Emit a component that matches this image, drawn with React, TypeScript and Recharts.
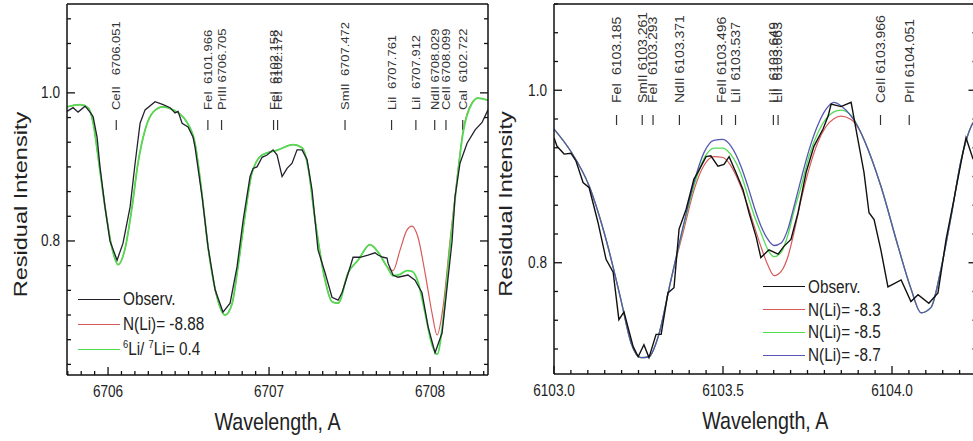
import React from 'react'
import { LineChart, Line, XAxis, YAxis, ReferenceLine, Legend } from 'recharts'

const FONT = '"Liberation Sans", Arial, Helvetica, sans-serif'
const SQ = 0.85 // the scanned figure is squeezed sideways a bit

// ---------- left panel: Li I 6708 region ----------
const liObsWl = [
  6705.745, 6705.783, 6705.814, 6705.857, 6705.888, 6705.907, 6705.932, 6705.95, 6705.981, 6706.012,
  6706.056, 6706.093, 6706.137, 6706.168, 6706.199, 6706.23, 6706.292, 6706.342, 6706.385, 6706.416,
  6706.435, 6706.46, 6706.497, 6706.528, 6706.54, 6706.584, 6706.621, 6706.665, 6706.714, 6706.758,
  6706.801, 6706.839, 6706.882, 6706.901, 6706.925, 6706.957, 6706.988, 6707.025, 6707.05, 6707.081,
  6707.112, 6707.143, 6707.174, 6707.205, 6707.236, 6707.267, 6707.304, 6707.348, 6707.391, 6707.429,
  6707.453, 6707.484, 6707.522, 6707.565, 6707.615, 6707.658, 6707.677, 6707.708, 6707.733, 6707.739,
  6707.77, 6707.801, 6707.863, 6707.907, 6707.95, 6707.988, 6708.031, 6708.075, 6708.106, 6708.137,
  6708.155, 6708.186, 6708.23, 6708.28, 6708.323, 6708.36,
]
const liObsI = [
  0.975, 0.98, 0.974, 0.982, 0.974, 0.968, 0.94, 0.9, 0.846, 0.8,
  0.774, 0.797, 0.846, 0.905, 0.959, 0.977, 0.988, 0.984, 0.98, 0.973,
  0.975, 0.959, 0.954, 0.94, 0.927, 0.86, 0.792, 0.734, 0.704, 0.716,
  0.765, 0.828, 0.887, 0.898, 0.9, 0.913, 0.916, 0.923, 0.916, 0.887,
  0.898, 0.905, 0.923, 0.923, 0.91, 0.869, 0.788, 0.757, 0.724, 0.72,
  0.73, 0.751, 0.778, 0.778, 0.781, 0.784, 0.781, 0.778, 0.777, 0.77,
  0.754, 0.751, 0.754, 0.747, 0.73, 0.684, 0.649, 0.676, 0.738, 0.8,
  0.859, 0.905, 0.932, 0.95, 0.96, 0.977,
]
const liModelWl = [
  6705.745, 6705.826, 6705.876, 6705.907, 6705.938, 6705.981, 6706.025, 6706.062, 6706.106, 6706.149,
  6706.186, 6706.23, 6706.28, 6706.342, 6706.404, 6706.491, 6706.54, 6706.584, 6706.621, 6706.665,
  6706.727, 6706.77, 6706.807, 6706.851, 6706.894, 6706.957, 6707.056, 6707.149, 6707.205, 6707.242,
  6707.286, 6707.348, 6707.391, 6707.429, 6707.491, 6707.553, 6707.627, 6707.677, 6707.733, 6707.77,
  6707.814, 6707.857, 6707.888, 6707.925, 6707.969, 6708.012, 6708.044, 6708.081, 6708.124, 6708.168,
  6708.205, 6708.261, 6708.298, 6708.36,
]
// N(Li) = -8.88
const liFitI = [
  0.981, 0.984, 0.98, 0.96, 0.914, 0.846, 0.79, 0.768, 0.79, 0.846,
  0.905, 0.95, 0.974, 0.981, 0.977, 0.96, 0.932, 0.862, 0.792, 0.735,
  0.7, 0.715, 0.765, 0.835, 0.892, 0.916, 0.923, 0.93, 0.926, 0.9,
  0.828, 0.747, 0.718, 0.716, 0.757, 0.774, 0.795, 0.785, 0.765, 0.76,
  0.788, 0.815, 0.82, 0.805, 0.757, 0.703, 0.673, 0.711, 0.8, 0.885,
  0.948, 0.987, 0.993, 0.99,
]
// 6Li/7Li = 0.4
const liIsoI = [
  0.981, 0.984, 0.98, 0.96, 0.914, 0.846, 0.79, 0.768, 0.79, 0.846,
  0.905, 0.95, 0.974, 0.981, 0.977, 0.96, 0.932, 0.862, 0.792, 0.735,
  0.7, 0.715, 0.765, 0.835, 0.892, 0.916, 0.923, 0.93, 0.926, 0.9,
  0.828, 0.747, 0.718, 0.716, 0.757, 0.774, 0.795, 0.785, 0.765, 0.753,
  0.755, 0.76, 0.759, 0.745, 0.703, 0.66, 0.647, 0.693, 0.792, 0.882,
  0.946, 0.986, 0.993, 0.99,
]
const liMarkText = [
  'CeII   6706.051', 'FeI  6101.966', 'PrIII 6706.705', 'FeI  6102.158', 'FeI  6102.172', 'SmII  6707.472',
  'LiI  6707.761', 'LiI  6707.912', 'NdII 6708.029', 'CeII 6708.099', 'CaI  6102.722',
]
const liMarkWl = [6706.051, 6706.62, 6706.705, 6707.028, 6707.053, 6707.472, 6707.761, 6707.912, 6708.029, 6708.099, 6708.203]

// ---------- right panel: Li I 6103 region ----------
const li61ObsWl = [
  6103.0, 6103.009, 6103.03, 6103.05, 6103.065, 6103.086, 6103.104, 6103.13, 6103.154, 6103.175,
  6103.192, 6103.207, 6103.234, 6103.249, 6103.266, 6103.281, 6103.302, 6103.317, 6103.337, 6103.355,
  6103.37, 6103.391, 6103.414, 6103.426, 6103.45, 6103.464, 6103.485, 6103.503, 6103.518, 6103.538,
  6103.559, 6103.577, 6103.598, 6103.612, 6103.636, 6103.663, 6103.68, 6103.701, 6103.722, 6103.746,
  6103.769, 6103.796, 6103.811, 6103.82, 6103.849, 6103.879, 6103.899, 6103.917, 6103.932, 6103.947,
  6103.967, 6103.988, 6104.027, 6104.056, 6104.077, 6104.109, 6104.136, 6104.16, 6104.183, 6104.21,
  6104.219, 6104.24,
]
const li61ObsI = [
  0.945, 0.935, 0.926, 0.927, 0.918, 0.893, 0.887, 0.847, 0.804, 0.789,
  0.734, 0.743, 0.703, 0.691, 0.705, 0.69, 0.717, 0.717, 0.765, 0.771,
  0.839, 0.862, 0.897, 0.905, 0.923, 0.924, 0.912, 0.914, 0.923, 0.905,
  0.885, 0.858, 0.83, 0.806, 0.815, 0.81, 0.819, 0.827, 0.858, 0.905,
  0.935, 0.955, 0.97, 0.984, 0.981, 0.986, 0.943, 0.905, 0.858, 0.85,
  0.815, 0.772, 0.78, 0.755, 0.763, 0.753, 0.765, 0.827, 0.873, 0.928,
  0.945, 0.92,
]
const li61ModelWl = [
  6103.0, 6103.05, 6103.104, 6103.154, 6103.198, 6103.228, 6103.257, 6103.281, 6103.308, 6103.346,
  6103.385, 6103.414, 6103.444, 6103.473, 6103.5, 6103.524, 6103.553, 6103.574, 6103.592, 6103.612,
  6103.633, 6103.651, 6103.672, 6103.692, 6103.71, 6103.731, 6103.754, 6103.781, 6103.805, 6103.828,
  6103.849, 6103.879, 6103.899, 6103.917, 6103.967, 6104.018, 6104.056, 6104.086, 6104.115, 6104.145,
  6104.175, 6104.204, 6104.234, 6104.251,
]
const li61Fit83 = [
  0.955, 0.929, 0.889, 0.827, 0.757, 0.707, 0.69, 0.691, 0.714, 0.78,
  0.84, 0.884, 0.913, 0.923, 0.922, 0.912, 0.888, 0.865, 0.843, 0.819,
  0.797, 0.785, 0.79, 0.807, 0.835, 0.873, 0.908, 0.94, 0.958, 0.967,
  0.97, 0.966, 0.957, 0.943, 0.889, 0.819, 0.77, 0.742, 0.748, 0.793,
  0.854, 0.918, 0.958, 0.968,
]
const li61Fit85 = [
  0.955, 0.929, 0.889, 0.827, 0.757, 0.707, 0.69, 0.691, 0.714, 0.78,
  0.845, 0.889, 0.921, 0.933, 0.933, 0.925, 0.903, 0.877, 0.855, 0.835,
  0.815, 0.807, 0.812, 0.832, 0.86, 0.888, 0.923, 0.951, 0.967, 0.975,
  0.977, 0.971, 0.958, 0.943, 0.889, 0.819, 0.77, 0.742, 0.748, 0.793,
  0.854, 0.918, 0.958, 0.968,
]
const li61Fit87 = [
  0.955, 0.929, 0.889, 0.827, 0.757, 0.707, 0.69, 0.691, 0.714, 0.78,
  0.847, 0.893, 0.928, 0.942, 0.943, 0.935, 0.912, 0.888, 0.865, 0.843,
  0.827, 0.82, 0.823, 0.839, 0.865, 0.897, 0.93, 0.96, 0.978, 0.986,
  0.982, 0.97, 0.958, 0.943, 0.889, 0.819, 0.77, 0.742, 0.748, 0.793,
  0.854, 0.918, 0.958, 0.968,
]
const li61MarkText = [
  'FeI  6103.185', 'SmII 6103.261', 'FeI  6103.293', 'NdII 6103.371', 'FeII 6103.496',
  'LiI  6103.537', 'LiI  6103.649', 'LiI  6103.663', 'CeII 6103.966', 'PrII 6104.051',
]
const li61MarkWl = [6103.185, 6103.261, 6103.293, 6103.371, 6103.496, 6103.537, 6103.649, 6103.663, 6103.966, 6104.051]

const leftXMajor = [6706, 6707, 6708]
const rightXMajor = [6103.0, 6103.5, 6104.0]
const yMajor = [0.8, 1.0]

const OBS = '#22222e'
const RED = '#d85a5a'
const GREEN = '#52dc52'
const BLUE = '#5656b4'

const toPts = (wl: number[], val: number[]) => wl.map((w, i) => ({ wl: w, v: val[i] }))

const makeTicks = ([lo, hi]: number[], base: number, step: number) => {
  const out: number[] = []
  for (let k = Math.ceil((lo - base) / step - 1e-6); base + k * step <= hi + 1e-6; k++) {
    out.push(Number((base + k * step).toFixed(5)))
  }
  return out
}
const isMajor = (v: number, majors: number[]) => majors.some((m) => Math.abs(m - v) < 1e-4)

type Series = { key: string; wl: number[]; val: number[]; color: string; width: number; smooth: boolean }
type LegendRow = { label: React.ReactNode; color: string; width: number }

interface PanelProps {
  width: number
  margin: { top: number; right: number; bottom: number; left: number }
  xDomain: number[]
  yDomain: number[]
  xMajor: number[]
  xStep: number
  xFmt: (v: number) => string
  series: Series[]
  marks: { text: string[]; wl: number[]; font: number; textBottom: number; tick0: number; tick1: number }
  legend: { rows: LegendRow[]; left: number; top: number; rowH: number }
  yTitleDx: number
}

function Panel({ width, margin, xDomain, yDomain, xMajor, xStep, xFmt, series, marks, legend, yTitleDx }: PanelProps) {
  const xTicks = makeTicks(xDomain, xMajor[0], xStep)
  const yTicks = makeTicks(yDomain, 0.8, 0.2 / 6)
  const axisLine = { stroke: '#111', strokeWidth: 1.5 }
  const common = { tickSize: 0, tickMargin: 0, tickLine: false, interval: 0 as const, allowDataOverflow: true, axisLine }

  return (
    <LineChart width={width} height={441} margin={margin}>
      <XAxis
        {...common}
        xAxisId="b"
        dataKey="wl"
        type="number"
        domain={xDomain}
        ticks={xTicks}
        height={30}
        tick={(p: any) => {
          const major = isMajor(p.payload.value, xMajor)
          return (
            <g>
              <line x1={p.x} x2={p.x} y1={p.y} y2={p.y - (major ? 8 : 4)} stroke="#111" strokeWidth={1.3} />
              {major && (
                <text transform={`translate(${p.x},${p.y + 22}) scale(${SQ},1)`} textAnchor="middle" fontSize={16} fontFamily={FONT} fill="#222">
                  {xFmt(p.payload.value)}
                </text>
              )}
            </g>
          )
        }}
        label={(lp: any) => {
          const vb = lp.viewBox
          return (
            <text transform={`translate(${vb.x + vb.width / 2},${vb.y + 55}) scale(0.82,1)`} textAnchor="middle" fontSize={24} fontFamily={FONT} fill="#222">
              Wavelength, A
            </text>
          )
        }}
      />
      <XAxis
        {...common}
        xAxisId="t"
        orientation="top"
        type="number"
        domain={xDomain}
        ticks={xTicks}
        height={1}
        tick={(p: any) => {
          const major = isMajor(p.payload.value, xMajor)
          return <line x1={p.x} x2={p.x} y1={p.y} y2={p.y + (major ? 8 : 4)} stroke="#111" strokeWidth={1.3} />
        }}
      />
      <YAxis
        {...common}
        yAxisId="l"
        type="number"
        domain={yDomain}
        ticks={yTicks}
        width={60}
        tick={(p: any) => {
          const major = isMajor(p.payload.value, yMajor)
          return (
            <g>
              <line x1={p.x} x2={p.x + (major ? 8 : 4)} y1={p.y} y2={p.y} stroke="#111" strokeWidth={1.3} />
              {major && (
                <text transform={`translate(${p.x - 7},${p.y}) scale(${SQ},1)`} textAnchor="end" dominantBaseline="central" fontSize={16} fontFamily={FONT} fill="#222">
                  {p.payload.value.toFixed(1)}
                </text>
              )}
            </g>
          )
        }}
        label={(lp: any) => {
          const vb = lp.viewBox
          return (
            <text
              transform={`translate(${vb.x + yTitleDx},${vb.y + vb.height / 2 + 15}) scale(0.82,1) rotate(-90)`}
              textAnchor="middle"
              dominantBaseline="central"
              fontSize={23.5}
              fontFamily={FONT}
              fill="#222"
            >
              Residual Intensity
            </text>
          )
        }}
      />
      <YAxis
        {...common}
        yAxisId="r"
        orientation="right"
        type="number"
        domain={yDomain}
        ticks={yTicks}
        width={1}
        tick={(p: any) => {
          const major = isMajor(p.payload.value, yMajor)
          return <line x1={p.x} x2={p.x - (major ? 8 : 4)} y1={p.y} y2={p.y} stroke="#111" strokeWidth={1.3} />
        }}
      />

      {marks.wl.map((w, i) => (
        <ReferenceLine
          key={`m${i}`}
          xAxisId="b"
          yAxisId="l"
          x={w}
          shape={(p: any) => {
            const top = Math.min(p.y1, p.y2)
            const x = p.x1
            return (
              <g>
                <line x1={x} x2={x} y1={top + marks.tick0} y2={top + marks.tick1} stroke="#333" strokeWidth={1.2} />
                <text
                  transform={`translate(${x + marks.font * 0.36 * SQ},${top + marks.textBottom}) scale(${SQ},1) rotate(-90)`}
                  fontSize={marks.font}
                  fontFamily={FONT}
                  fill="#333"
                  style={{ whiteSpace: 'pre' }}
                >
                  {marks.text[i]}
                </text>
              </g>
            )
          }}
        />
      ))}

      {series.map((s) => (
        <Line
          key={s.key}
          xAxisId="b"
          yAxisId="l"
          data={toPts(s.wl, s.val)}
          dataKey="v"
          type={s.smooth ? 'monotone' : 'linear'}
          stroke={s.color}
          strokeWidth={s.width}
          dot={false}
          activeDot={false}
          isAnimationActive={false}
        />
      ))}

      <Legend
        layout="horizontal"
        verticalAlign="middle"
        align="center"
        wrapperStyle={{ left: legend.left, top: legend.top, width: 220, height: 'auto' }}
        content={() => (
          <div style={{ fontFamily: FONT, color: '#222' }}>
            {legend.rows.map((r, i) => (
              <div key={i} style={{ display: 'flex', alignItems: 'center', height: legend.rowH }}>
                <div style={{ width: 42, height: 0, borderTop: `${r.width}px solid ${r.color}` }} />
                <span
                  style={{
                    marginLeft: 3,
                    fontSize: 18,
                    lineHeight: 1,
                    display: 'inline-block',
                    whiteSpace: 'nowrap',
                    transform: `scaleX(${SQ})`,
                    transformOrigin: 'left center',
                  }}
                >
                  {r.label}
                </span>
              </div>
            ))}
          </div>
        )}
      />
    </LineChart>
  )
}

export default function App() {
  const sup = { fontSize: 11, verticalAlign: 'super' as const, lineHeight: 0 }
  return (
    <div style={{ position: 'absolute', left: 0, top: 0, width: 973, height: 441, overflow: 'hidden', background: '#fff' }}>
      <div style={{ position: 'absolute', left: 0, top: 0 }}>
        <Panel
          width={495}
          margin={{ top: 3, right: 6, bottom: 36, left: 7 }}
          xDomain={[6705.745, 6708.36]}
          yDomain={[0.619, 1.12]}
          xMajor={leftXMajor}
          xStep={1 / 12}
          xFmt={(v) => v.toFixed(0)}
          yTitleDx={14}
          series={[
            { key: 'fit', wl: liModelWl, val: liFitI, color: RED, width: 1.2, smooth: true },
            { key: 'iso', wl: liModelWl, val: liIsoI, color: GREEN, width: 1.8, smooth: true },
            { key: 'obs', wl: liObsWl, val: liObsI, color: OBS, width: 1.3, smooth: false },
          ]}
          marks={{ text: liMarkText, wl: liMarkWl, font: 13, textBottom: 106, tick0: 116, tick1: 126 }}
          legend={{
            left: 78,
            top: 286.5,
            rowH: 25,
            rows: [
              { label: 'Observ.', color: OBS, width: 1.3 },
              { label: 'N(Li)= -8.88', color: RED, width: 1.2 },
              {
                label: (
                  <>
                    <span style={sup}>6</span>Li/ <span style={sup}>7</span>Li= 0.4
                  </>
                ),
                color: GREEN,
                width: 1.8,
              },
            ],
          }}
        />
      </div>
      <div style={{ position: 'absolute', left: 490, top: 0 }}>
        <Panel
          width={495}
          margin={{ top: 3, right: 7.5, bottom: 37, left: 4 }}
          xDomain={[6103.0, 6104.25]}
          yDomain={[0.671, 1.1]}
          xMajor={rightXMajor}
          xStep={0.05}
          xFmt={(v) => v.toFixed(1)}
          yTitleDx={12}
          series={[
            { key: 'f83', wl: li61ModelWl, val: li61Fit83, color: RED, width: 1.2, smooth: true },
            { key: 'f85', wl: li61ModelWl, val: li61Fit85, color: GREEN, width: 1.3, smooth: true },
            { key: 'f87', wl: li61ModelWl, val: li61Fit87, color: BLUE, width: 1.3, smooth: true },
            { key: 'obs', wl: li61ObsWl, val: li61ObsI, color: '#111', width: 1.4, smooth: false },
          ]}
          marks={{ text: li61MarkText, wl: li61MarkWl, font: 14, textBottom: 99, tick0: 111, tick1: 121 }}
          legend={{
            left: 273,
            top: 275.5,
            rowH: 22.8,
            rows: [
              { label: 'Observ.', color: '#111', width: 1.5 },
              { label: 'N(Li)= -8.3', color: RED, width: 1.2 },
              { label: 'N(Li)= -8.5', color: GREEN, width: 1.3 },
              { label: 'N(Li)= -8.7', color: BLUE, width: 1.3 },
            ],
          }}
        />
      </div>
    </div>
  )
}
